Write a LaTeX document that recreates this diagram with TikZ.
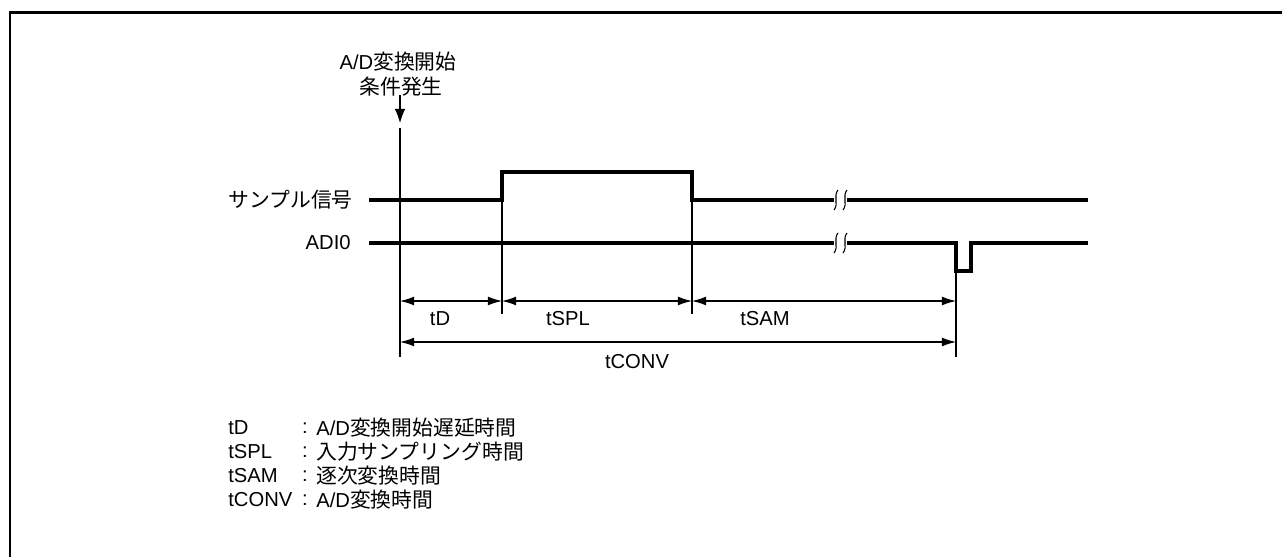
\documentclass[tikz,border=0pt]{standalone}
\usepackage{fontspec}
\setmainfont{Liberation Sans}
\newfontfamily\jp[Scale=1.03]{Noto Sans CJK JP}
\usetikzlibrary{arrows.meta}

\begin{document}
\begin{tikzpicture}[x=0.02cm, y=-0.02cm, every node/.style={font=\fontsize{11.5}{13}\selectfont, inner sep=0pt},
sig/.style={line width=1.8pt, line join=miter},
guide/.style={line width=0.6pt},
dim/.style={{Latex[length=8pt,width=5pt]}-{Latex[length=8pt,width=5pt]}, line width=0.6pt},
arr/.style={-{Latex[length=8pt,width=6pt]}, line width=0.6pt},
leg/.style={anchor=west}]
\useasboundingbox (0,0) rectangle (1282,557);
\draw[line width=1.7pt] (10,557) -- (10,12.5) -- (1282,12.5);
% start condition
\node (start1) at (398,62) {A/D{\jp 変換開始}};
\node (start2) at (401,87) {{\jp 条件発生}};
\coordinate (tip) at (400,123);
\draw[arr] (400,95) -- (tip);
% signal names
\node[anchor=east] (smp) at (353,200) {{\jp サンプル信号}};
\node[anchor=east] (adi) at (351,243) {ADI0};
% waveforms
\draw[sig] (369,200) -- (502,200) -- (502,172) -- (692,172) -- (692,200) -- (834,200);
\draw[sig] (847,200) -- (1088,200);
\draw[sig] (369,243) -- (834,243);
\draw[sig] (847,243) -- (956,243) -- (956,271) -- (971,271) -- (971,243) -- (1088,243);
\foreach \y in {200,243}
  \foreach \x in {834,843}
    \draw[guide] (\x+4,\y-10) .. controls (\x-1,\y-4) and (\x+5,\y+4) .. (\x,\y+10);
% timing lines
\draw[guide] (400,128) -- (400,357);
\draw[guide] (502,172) -- (502,314);
\draw[guide] (692,172) -- (692,314);
\draw[guide] (956,271) -- (956,357);
\draw[dim] (400,301) -- (502,301);
\draw[dim] (502,301) -- (692,301);
\draw[dim] (692,301) -- (956,301);
\draw[dim] (400,342) -- (956,342);
\node (td) at (440,319) {tD};
\node (tspl) at (568,319) {tSPL};
\node (tsam) at (765,319) {tSAM};
\node (tconv) at (637,362) {tCONV};
% legend
\node[leg] (lgd) at (228,428) {tD};
\node[leg] (lgspl) at (228,452) {tSPL};
\node[leg] (lgsam) at (228,476) {tSAM};
\node[leg] (lgconv) at (228,500) {tCONV};
\node (c1) at (305,428) {:};
\node (c2) at (305,452) {:};
\node (c3) at (305,476) {:};
\node (c4) at (305,500) {:};
\node[leg] (txd) at (316,428) {A/D{\jp 変換開始遅延時間}};
\node[leg] (txspl) at (316,452) {{\jp 入力サンプリング時間}};
\node[leg] (txsam) at (316,476) {{\jp 逐次変換時間}};
\node[leg] (txconv) at (316,500) {A/D{\jp 変換時間}};
\end{tikzpicture}
\end{document}
